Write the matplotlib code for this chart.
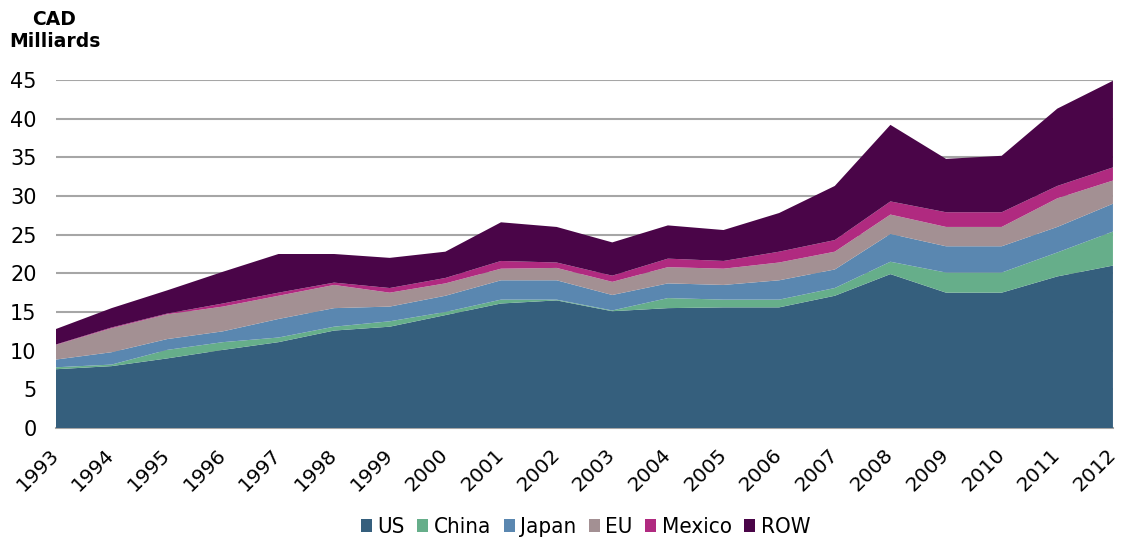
import matplotlib
matplotlib.use("Agg")
import matplotlib.pyplot as plt
from matplotlib.font_manager import FontProperties
import numpy as np

years = list(range(1993, 2013))
series_names = ["US", "China", "Japan", "EU", "Mexico", "ROW"]
us     = [7.6, 8.0, 9.0, 10.1, 11.1, 12.6, 13.1, 14.6, 16.1, 16.5, 15.1, 15.5, 15.6, 15.6, 17.1, 19.9, 17.5, 17.5, 19.6, 21.0]
china  = [0.25, 0.2, 1.1, 1.0, 0.6, 0.5, 0.7, 0.4, 0.5, 0.1, 0.1, 1.3, 1.0, 1.0, 1.0, 1.6, 2.6, 2.6, 3.1, 4.4]
japan  = [1.0, 1.6, 1.4, 1.4, 2.4, 2.4, 1.9, 2.1, 2.5, 2.5, 2.0, 1.9, 1.9, 2.5, 2.4, 3.6, 3.4, 3.4, 3.3, 3.6]
eu     = [1.9, 3.1, 3.2, 3.2, 3.0, 3.0, 1.8, 1.6, 1.5, 1.6, 1.7, 2.1, 2.1, 2.3, 2.3, 2.5, 2.5, 2.5, 3.7, 3.0]
mexico = [0.05, 0.1, 0.1, 0.4, 0.4, 0.3, 0.6, 0.7, 1.0, 0.7, 0.8, 1.1, 1.0, 1.4, 1.5, 1.7, 1.9, 1.9, 1.6, 1.7]
row    = [2.0, 2.5, 3.0, 4.1, 5.0, 3.7, 3.9, 3.4, 5.0, 4.6, 4.3, 4.3, 4.0, 5.0, 7.0, 9.9, 6.9, 7.3, 10.0, 11.2]
colors = ["#355F7D", "#66AE8A", "#5A87B0", "#A39093", "#B02A80", "#4A0548"]
yticks = list(range(0, 50, 5))

fig = plt.figure(figsize=(11.26, 5.37), dpi=100)
ax = fig.add_axes([0.0497, 0.203, 0.9387, 0.648])
ax.stackplot(years, us, china, japan, eu, mexico, row, colors=colors,
             labels=series_names, linewidth=0, zorder=3)
ax.set_xlim(1993, 2012)
ax.set_ylim(0, 45)
ax.set_yticks(yticks)
ax.set_xticks(years)
ax.set_xticklabels([str(y) for y in years], rotation=45, ha="right", va="center",
                   rotation_mode="anchor", fontsize=14.5)
ax.tick_params(axis="y", labelsize=15, length=0, pad=14)
ax.tick_params(axis="x", length=0, pad=17)
ax.grid(axis="y", color="#A6A6A6", linewidth=1.5, zorder=0)
for s in ["left", "right", "top"]:
    ax.spines[s].set_visible(False)
ax.spines["bottom"].set_color("#A6A6A6")
ax.spines["bottom"].set_linewidth(1.5)

fig.text(0.048, 0.963, "CAD", fontsize=13.5, fontweight="bold", ha="center", va="center")
fig.text(0.0488, 0.922, "Milliards", fontsize=13.5, fontweight="bold", ha="center", va="center")

handles, labels = ax.get_legend_handles_labels()
fp = FontProperties(family="DejaVu Sans", size=16, stretch="condensed")
fig.legend(handles, labels, loc="center", bbox_to_anchor=(0.52, 0.018), ncol=6,
           frameon=False, prop=fp, handlelength=0.5, handleheight=0.5,
           handletextpad=0.25, columnspacing=0.55, borderpad=0)

fig.savefig("out.png", dpi=100)
